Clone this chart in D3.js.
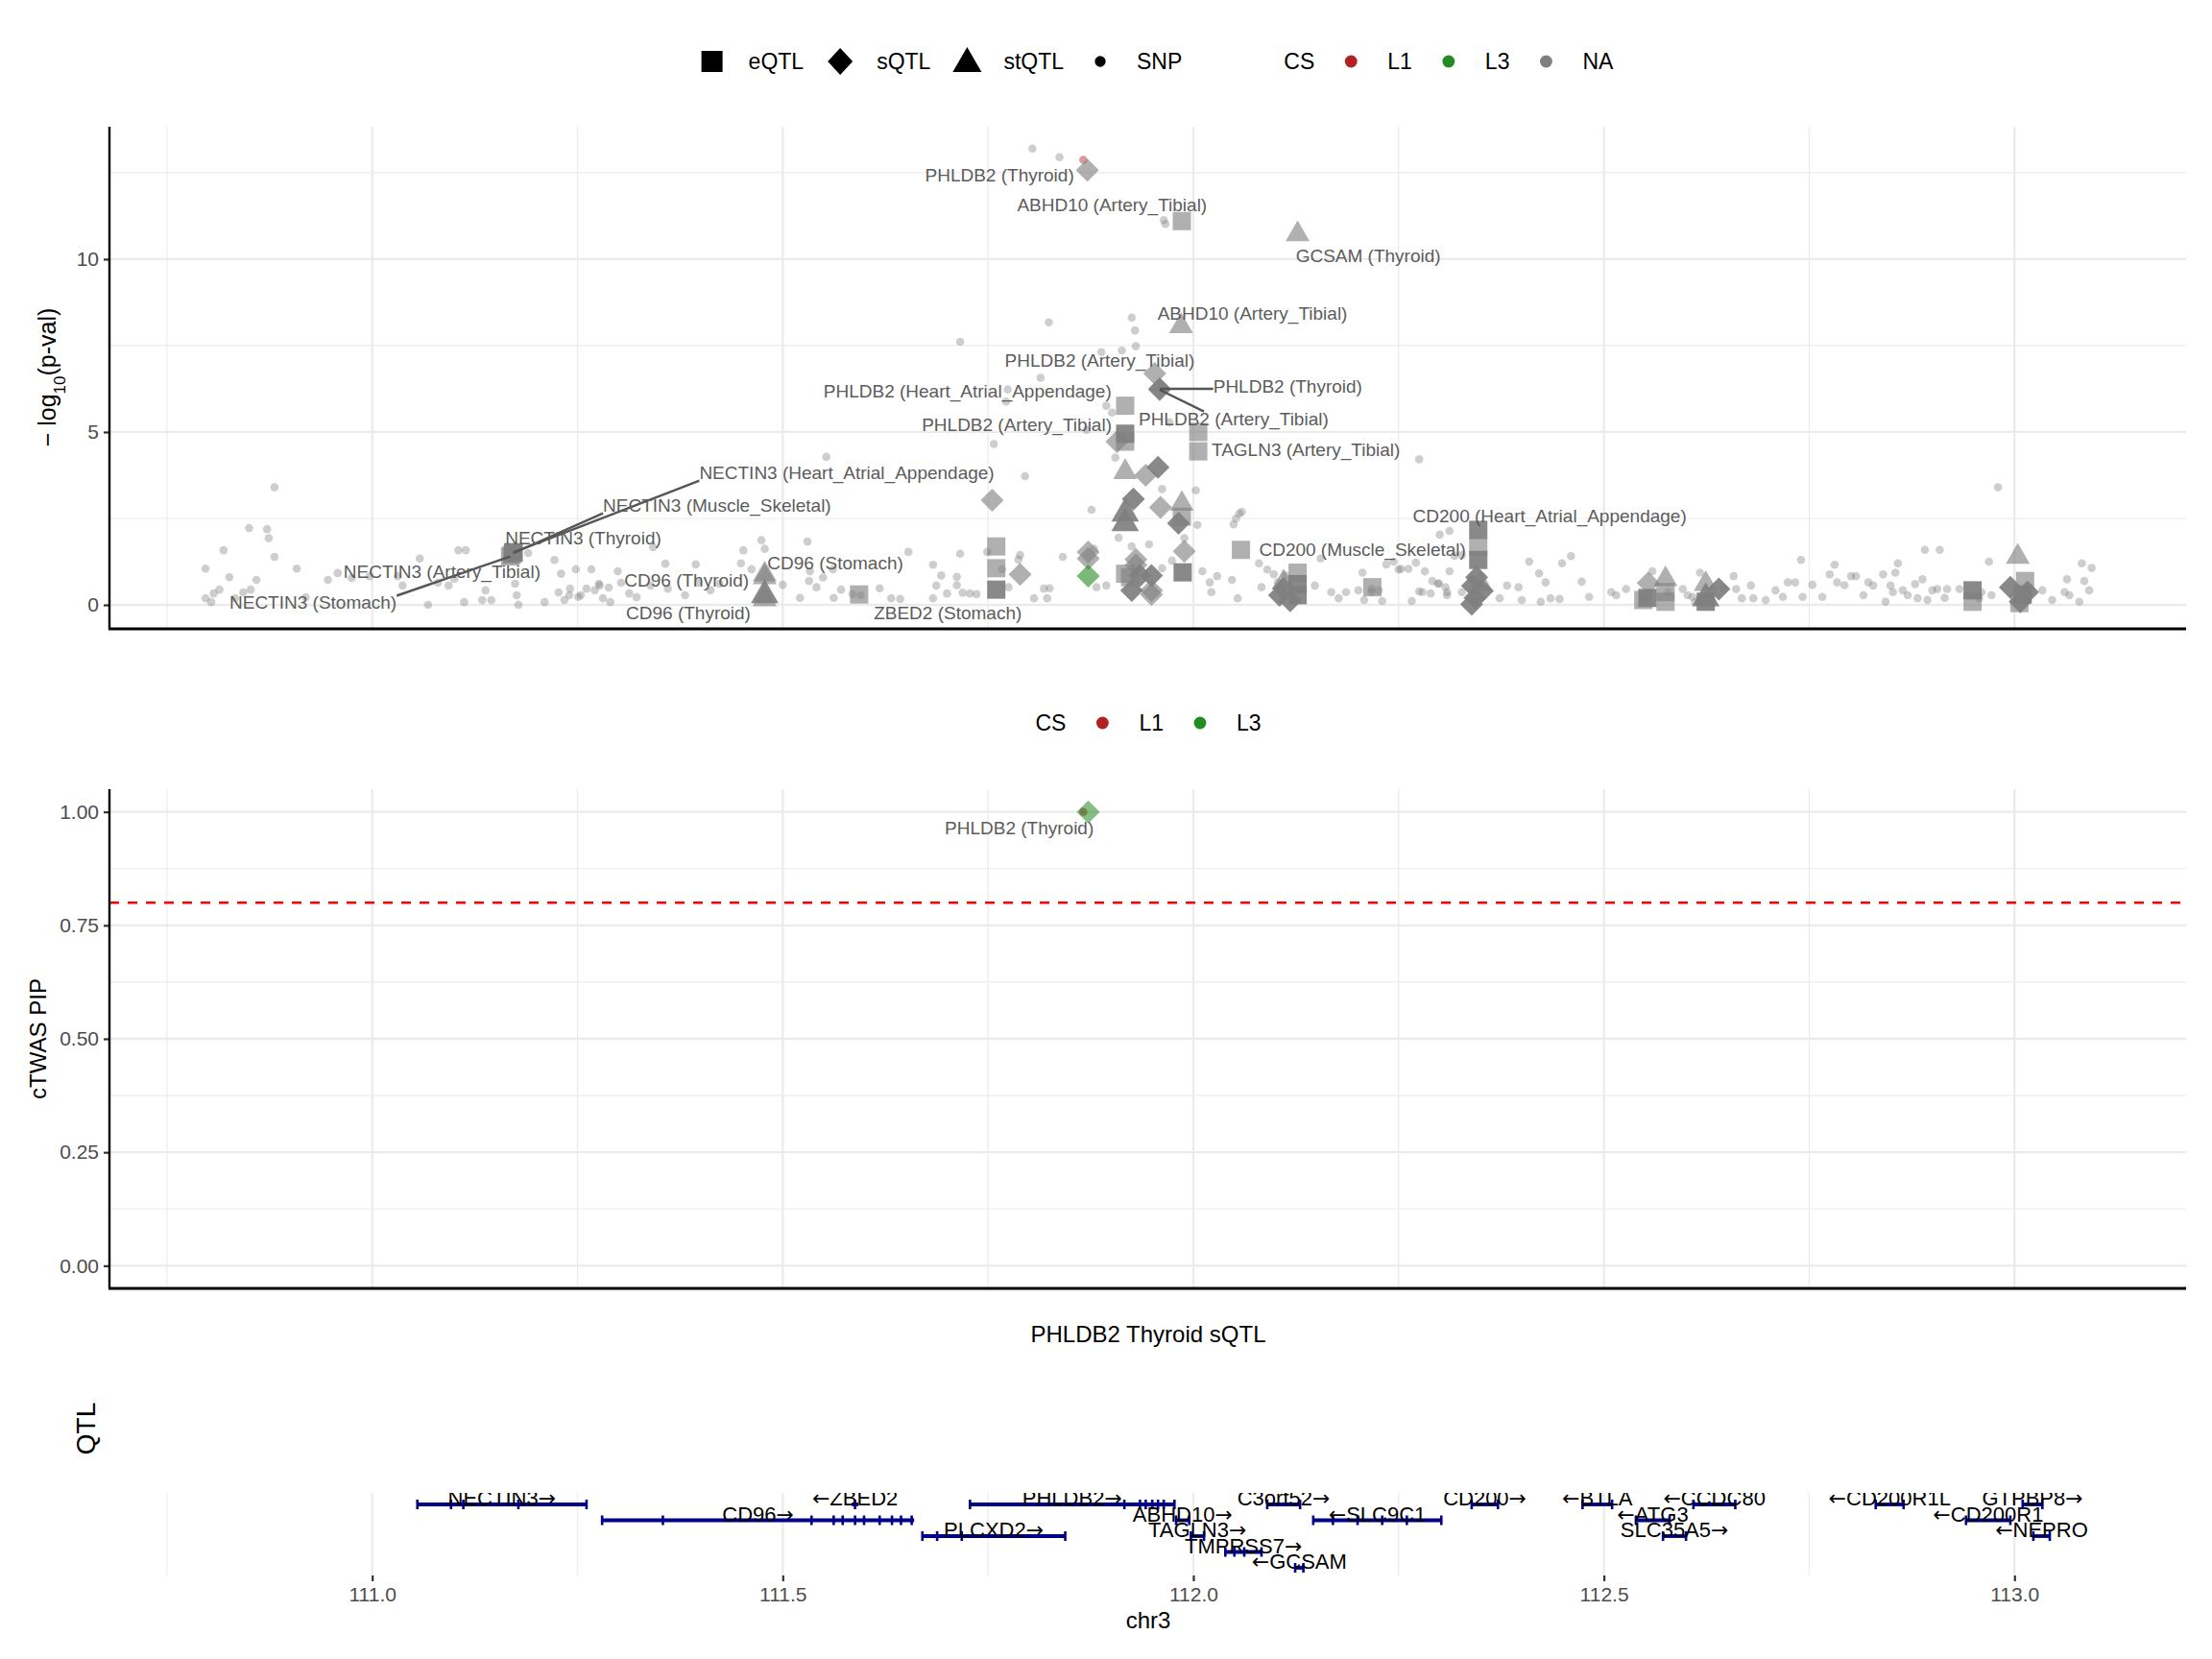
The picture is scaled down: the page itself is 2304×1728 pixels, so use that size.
<!DOCTYPE html>
<html>
<head>
<meta charset="utf-8">
<script src="https://cdn.jsdelivr.net/npm/d3@7"></script>
<style>
  body { margin: 0; background: #fff; }
</style>
</head>
<body>
<div id="chart"></div>
<script>
// ---- data (positions in Mb on chr3, -log10 p) ----

// SNPs, west part of the locus
var snpsWest = [
  [110.850,2.22],[110.872,2.19],[110.874,1.93],[110.819,1.58],[110.881,1.39],[110.797,1.05],
  [110.908,1.05],[110.826,0.80],[110.859,0.72],[110.814,0.44],[110.807,0.33],[110.797,0.19],
  [110.804,0.08],[110.852,0.44],[110.843,0.36],[110.833,0.19],[110.919,0.22],[110.946,0.72],
  [110.958,0.92],[110.975,0.78],[110.997,0.83],[111.031,0.83],[111.037,0.56],[111.058,1.34],
  [111.068,0.00],[111.080,0.64],[111.093,0.56],[111.100,0.75],[111.105,1.58],[111.114,1.58],
  [111.112,0.08],[111.134,0.14],[111.145,0.14],[111.138,0.42],[111.174,0.61],[111.176,0.28],
  [111.178,0.00],[111.190,1.50],[111.210,0.08],[111.222,1.30],[111.230,0.90],[111.241,0.47],
  [111.248,1.03],[111.267,1.03],[111.254,0.28],[111.277,0.56],[111.288,0.50],[111.281,0.19],
  [111.290,0.08],[111.299,0.97],[111.303,0.64],[111.313,0.33],[111.322,0.22],[111.342,1.67],
  [110.881,3.40],[111.276,0.61],[111.271,0.42],[111.261,0.47],[111.251,0.23],[111.240,0.28],
  [111.234,0.14],[111.227,0.36]
];

// SNPs, between NECTIN3 and PHLDB2
var snpsCentre = [
  [111.553,4.28],[111.474,1.87],[111.530,1.83],[111.452,1.58],[111.533,0.97],[111.561,1.03],
  [111.462,1.03],[111.521,0.20],[111.562,0.20],[111.500,0.58],[111.449,1.20],[111.394,1.17],
  [111.423,0.61],[111.360,0.47],[111.357,1.19],[111.339,0.56],[111.381,0.28],[111.412,0.42],
  [111.397,0.64],[111.478,1.62],[111.549,0.79],[111.541,0.51],[111.532,0.69],[111.571,0.44],
  [111.585,0.31],[111.595,0.28],[111.618,0.48],[111.632,0.19],[111.643,0.17],[111.653,1.53],
  [111.683,1.16],[111.693,0.85],[111.712,0.81],[111.687,0.56],[111.712,0.57],[111.700,0.33],
  [111.719,0.35],[111.736,0.31],[111.728,0.33],[111.683,0.19],[111.716,1.48],[111.749,1.53],
  [111.767,1.03],[111.789,1.44],[111.787,1.31],[111.775,0.51],[111.818,0.47],[111.825,0.48],
  [111.822,0.19],[111.841,1.39],[111.806,0.19],[111.882,0.51],[111.894,0.56]
];

// SNPs around the PHLDB2 / ABHD10 peak
var snpsPeak = [
  [111.804,13.20],[111.837,12.95],[111.964,11.13],[111.966,11.02],[111.824,8.17],[111.716,7.61],
  [111.925,8.31],[111.929,7.94],[111.930,7.48],[111.888,7.31],[111.913,7.36],[111.814,6.57],
  [111.774,6.23],[111.772,5.88],[111.894,5.76],[111.901,5.56],[111.971,5.28],[111.870,5.06],
  [111.757,4.65],[111.905,4.26],[111.795,3.72],[111.876,2.75],[111.962,3.35],[112.003,3.31],
  [112.005,2.31],[112.056,2.64],[112.059,2.69],[112.049,2.33],[112.052,2.50],[111.909,1.94],
  [111.925,1.69],[111.946,1.75],[111.989,1.93],[111.879,1.62],[111.962,1.06],[111.974,1.28],
  [112.011,0.97],[112.029,0.83],[112.020,0.65],[112.047,0.72],[112.022,0.37],[112.054,0.19]
];

// SNPs, east part of the locus
var snpsEast = [
  [112.080,1.20],[112.090,1.02],[112.098,0.88],[112.103,0.65],[112.083,0.51],[112.112,0.85],
  [112.148,0.56],[112.155,1.34],[112.168,0.37],[112.177,0.19],[112.186,0.37],[112.206,0.93],
  [112.201,0.42],[112.208,0.14],[112.217,0.37],[112.226,0.42],[112.230,0.11],[112.235,1.17],
  [112.244,1.25],[112.253,1.04],[112.262,1.04],[112.271,1.22],[112.282,0.97],[112.291,0.69],
  [112.298,0.61],[112.266,0.11],[112.275,0.39],[112.289,0.33],[112.309,0.28],[112.307,0.51],
  [112.318,1.42],[112.327,1.44],[112.300,2.03],[112.312,2.14],[112.382,0.56],[112.396,0.51],
  [112.409,1.25],[112.373,0.19],[112.400,0.14],[112.217,0.46],[112.250,1.02],[112.279,0.37],
  [112.299,0.62],[112.309,0.37],[112.312,0.97],[112.327,0.37],[112.421,0.91],[112.429,0.65],
  [112.423,0.09],[112.435,0.19],[112.446,0.17],[112.449,1.20],[112.460,1.41],[112.473,0.67],
  [112.482,0.23],[112.275,4.21],
  [112.509,0.37],[112.515,0.28],[112.527,0.46],[112.559,0.97],[112.549,0.19],[112.578,0.37],
  [112.596,0.46],[112.602,0.28],[112.608,0.23],[112.617,0.93],[112.611,0.09],[112.628,0.28],
  [112.646,0.48],[112.658,0.83],[112.661,0.46],[112.668,0.19],[112.679,0.56],[112.682,0.19],
  [112.697,0.14],[112.709,0.42],[112.718,0.23],[112.724,0.65],[112.733,0.65],[112.742,0.23],
  [112.740,1.30],[112.754,0.58],[112.766,0.23],[112.775,0.88],[112.781,1.16],[112.784,0.65],
  [112.793,0.57],[112.801,0.83],[112.807,0.83],[112.816,0.28],[112.822,0.65],[112.828,0.56],
  [112.840,0.88],[112.843,0.09],[112.849,0.56],[112.852,0.37],[112.858,1.20],[112.855,0.93],
  [112.864,0.42],[112.870,0.28],[112.879,0.60],[112.882,0.19],[112.888,0.74],[112.894,0.14],
  [112.891,1.59],[112.900,0.42],[112.909,1.59],[112.906,0.46],[112.915,0.20],[112.918,0.46],
  [112.933,0.46],[112.957,0.19],[112.969,1.25],[112.960,0.37],[112.972,0.28],[113.034,0.42],
  [113.046,0.14],[113.064,0.74],[113.061,0.37],[113.067,0.28],[113.079,0.09],[113.085,0.69],
  [113.091,0.42],[113.094,1.07],[113.082,1.20],[112.980,3.40]
];

// the one SNP in credible set L1
var snpsL1 = [[111.866,12.87]];

// QTLs: type (e = eQTL, s = sQTL, t = stQTL), position, -log10 p, shade group, credible set
var qtls = [
  ["s",111.871,12.57,1,"NA"],["e",111.986,11.10,1,"NA"],["t",112.127,10.72,1,"NA"],
  ["t",111.985,8.06,1,"NA"],["s",111.953,6.69,1,"NA"],["s",111.959,6.25,2,"NA"],
  ["s",111.959,6.22,1,"NA"],["e",111.917,5.76,1,"NA"],["e",111.917,4.95,2,"NA"],
  ["e",111.917,4.72,1,"NA"],["s",111.907,4.72,1,"NA"],["e",112.006,5.00,1,"NA"],
  ["e",112.006,4.44,1,"NA"],["t",111.917,3.84,1,"NA"],["s",111.942,3.75,1,"NA"],
  ["s",111.957,3.98,2,"NA"],["s",111.927,3.06,2,"NA"],["s",111.755,3.03,1,"NA"],
  ["s",111.960,2.82,1,"NA"],["t",111.986,2.92,1,"NA"],["e",111.986,2.55,1,"NA"],
  ["s",111.982,2.36,2,"NA"],["t",111.917,2.64,2,"NA"],["t",111.917,2.36,2,"NA"],
  ["s",111.872,1.53,1,"NA"],["s",111.872,1.34,1,"NA"],["s",111.872,0.83,1,"L3"],
  ["s",111.930,1.31,1,"NA"],["s",111.930,1.15,1,"NA"],["e",111.917,0.90,1,"NA"],
  ["s",111.935,0.85,2,"NA"],["s",111.949,0.85,2,"NA"],["s",111.925,0.42,2,"NA"],
  ["s",111.949,0.42,1,"NA"],["s",111.949,0.30,1,"NA"],["e",111.987,0.94,2,"NA"],
  ["s",111.989,1.55,1,"NA"],["e",111.760,1.69,1,"NA"],["e",111.760,1.06,1,"NA"],
  ["e",111.760,0.44,2,"NA"],["s",111.789,0.88,1,"NA"],["e",112.058,1.59,1,"NA"],
  ["e",112.347,2.17,2,"NA"],["e",112.347,1.67,1,"NA"],["e",112.347,1.30,2,"NA"],
  ["s",112.345,0.80,2,"NA"],["s",112.340,0.55,2,"NA"],["s",112.352,0.40,2,"NA"],
  ["s",112.343,0.20,2,"NA"],["s",112.339,0.02,2,"NA"],["t",112.350,0.60,1,"NA"],
  ["e",112.127,0.93,1,"NA"],["e",112.127,0.60,2,"NA"],["e",112.127,0.28,2,"NA"],
  ["s",112.105,0.28,2,"NA"],["s",112.110,0.47,2,"NA"],["t",112.110,0.65,1,"NA"],
  ["s",112.118,0.12,2,"NA"],["e",112.218,0.51,1,"NA"],["e",111.172,1.52,2,"NA"],
  ["e",111.170,1.45,1,"NA"],["e",111.172,1.50,1,"NA"],["e",111.172,1.52,1,"NA"],
  ["e",111.168,1.40,1,"NA"],["t",111.478,0.88,1,"NA"],["t",111.478,0.80,1,"NA"],
  ["t",111.478,0.28,2,"NA"],["t",111.478,0.16,1,"NA"],["e",111.593,0.30,1,"NA"],
  ["e",112.548,0.14,1,"NA"],["s",112.554,0.63,1,"NA"],["t",112.575,0.74,1,"NA"],
  ["e",112.575,0.37,1,"NA"],["e",112.575,0.09,1,"NA"],["e",112.553,0.20,2,"NA"],
  ["t",112.624,0.60,1,"NA"],["t",112.624,0.19,2,"NA"],["e",112.624,0.09,2,"NA"],
  ["s",112.640,0.46,2,"NA"],["e",112.949,0.42,2,"NA"],["e",112.949,0.09,1,"NA"],
  ["t",113.004,1.39,1,"NA"],["s",112.995,0.51,2,"NA"],["e",113.013,0.69,1,"NA"],
  ["s",113.016,0.37,2,"NA"],["s",113.007,0.09,2,"NA"],["e",113.006,0.05,1,"NA"],
  ["e",113.010,0.30,2,"NA"],["e",111.923,0.80,1,"NA"]
];

// labels: text, index into qtls, label centre (Mb, -log10 p), draw a leader line
var qtlLabels = [
  ["PHLDB2 (Thyroid)",0,111.764,12.44,0],
  ["ABHD10 (Artery_Tibial)",1,111.901,11.56,0],
  ["GCSAM (Thyroid)",2,112.213,10.11,0],
  ["ABHD10 (Artery_Tibial)",3,112.072,8.44,0],
  ["PHLDB2 (Artery_Tibial)",4,111.886,7.08,0],
  ["PHLDB2 (Heart_Atrial_Appendage)",7,111.725,6.17,0],
  ["PHLDB2 (Thyroid)",5,112.115,6.33,1],
  ["PHLDB2 (Artery_Tibial)",6,112.049,5.39,1],
  ["PHLDB2 (Artery_Tibial)",8,111.785,5.22,0],
  ["TAGLN3 (Artery_Tibial)",12,112.137,4.50,0],
  ["NECTIN3 (Heart_Atrial_Appendage)",62,111.578,3.83,1],
  ["NECTIN3 (Muscle_Skeletal)",61,111.420,2.89,1],
  ["NECTIN3 (Thyroid)",59,111.257,1.94,0],
  ["NECTIN3 (Artery_Tibial)",60,111.085,0.97,0],
  ["NECTIN3 (Stomach)",63,110.928,0.06,1],
  ["CD96 (Thyroid)",65,111.383,0.72,0],
  ["CD96 (Thyroid)",66,111.385,-0.22,0],
  ["CD96 (Stomach)",64,111.564,1.22,0],
  ["ZBED2 (Stomach)",68,111.701,-0.22,0],
  ["CD200 (Muscle_Skeletal)",41,112.206,1.61,0],
  ["CD200 (Heart_Atrial_Appendage)",42,112.434,2.56,0]
];

// cTWAS PIP panel
var pipQtls = [["s",111.872,1.00,"L3"]];
var pipSnps = [[111.866,1.00,"L1"]];
var pipLabels = [["PHLDB2 (Thyroid)",0,111.788,0.964,0]];
var pipThreshold = 0.8;

// gene models: name, start, end, strand, row, exon positions
var genes = [
  ["NECTIN3",111.055,111.261,"+",1,[111.055,111.096,111.111,111.178,111.261]],
  ["CD96",111.280,111.660,"+",2,[111.280,111.354,111.535,111.562,111.573,111.588,111.599,111.618,111.633,111.644,111.657]],
  ["ZBED2",111.584,111.592,"-",1,[111.588]],
  ["PLCXD2",111.670,111.844,"+",3,[111.670,111.688,111.718,111.844]],
  ["PHLDB2",111.728,111.977,"+",1,[111.728,111.916,111.935,111.942,111.950,111.957,111.964,111.977]],
  ["ABHD10",111.979,111.995,"+",2,[111.979,111.995]],
  ["TAGLN3",111.997,112.013,"+",3,[111.997,112.013]],
  ["TMPRSS7",112.039,112.083,"+",4,[112.039,112.050,112.062,112.083]],
  ["GCSAM",112.124,112.134,"-",5,[112.124,112.134]],
  ["C3orf52",112.090,112.130,"+",1,[112.090,112.130]],
  ["SLC9C1",112.146,112.302,"-",2,[112.146,112.170,112.200,112.230,112.260,112.302]],
  ["CD200",112.339,112.371,"+",1,[112.339,112.371]],
  ["BTLA",112.474,112.510,"-",1,[112.474,112.510]],
  ["ATG3",112.539,112.580,"-",2,[112.539,112.580]],
  ["SLC35A5",112.572,112.600,"+",3,[112.572,112.600]],
  ["CCDC80",112.609,112.660,"-",1,[112.609,112.660]],
  ["CD200R1L",112.831,112.865,"-",1,[112.831,112.865]],
  ["CD200R1",112.941,112.995,"-",2,[112.941,112.995]],
  ["GTPBP8",113.010,113.034,"+",1,[113.010,113.034]],
  ["NEPRO",113.023,113.043,"-",3,[113.023,113.043]]
];

var shapeKeys = ["eQTL","sQTL","stQTL","SNP"];
var csKeys = ["L1","L3","NA"];
var pipCsKeys = ["L1","L3"];
var xTicks = [111.0,111.5,112.0,112.5,113.0];
var xMinor = [110.75,111.25,111.75,112.25,112.75];
var yTicksTop = [0,5,10];
var yMinorTop = [2.5,7.5,12.5];
var yTicksPip = [0,0.25,0.5,0.75,1];
var yMinorPip = [0.125,0.375,0.625,0.875];

// ---- drawing ----
var W = 2304, H = 1728;
var L = 114, R = 2277;                 // panel left / right edge
var font = "'Liberation Sans', Arial, Helvetica, sans-serif";
var csColour = { "L1": "#b22222", "L3": "#228b22", "NA": "#7f7f7f" };
var typeOf = { "eQTL": "e", "sQTL": "s", "stQTL": "t", "SNP": "p" };

var svg = d3.select("#chart").append("svg")
  .attr("width", W).attr("height", H)
  .style("font-family", font);

var x = d3.scaleLinear().domain([110.680, 113.209]).range([L, R]);
var yTop = d3.scaleLinear().domain([-0.694, 13.83]).range([655, 132]);
var yPip = d3.scaleLinear().domain([-0.05, 1.05]).range([1342, 822]);
var yRow = d3.scalePoint().domain([1,2,3,4,5]).range([1567, 1633]);
var opac = d3.scaleOrdinal().domain([1,2]).range([0.62, 0.92]);

//shape path for the ggplot-like point shapes
function shapePath(type, big) {
  var k = big ? 1.15 : 1;
  if (type == "e") {
    var s = 19 * k / 2;
    return "M" + (-s) + "," + (-s) + "h" + 2*s + "v" + 2*s + "h" + (-2*s) + "Z";
  }
  if (type == "s") {
    var r = 12 * k;
    return "M0," + (-r) + "L" + r + ",0L0," + r + "L" + (-r) + ",0Z";
  }
  if (type == "t") {
    var a = 25 * k, h = a * 0.866;
    return "M0," + (-2*h/3) + "L" + a/2 + "," + h/3 + "L" + (-a/2) + "," + h/3 + "Z";
  }
  return d3.symbol().type(d3.symbolCircle).size(130)();
}

//grid lines for one panel
function grid(top, bottom, yScale, major, minor) {
  var g = svg.append("g");
  g.selectAll(".vminor").data(xMinor).enter().append("line")
    .attr("x1", d => x(d)).attr("x2", d => x(d))
    .attr("y1", top).attr("y2", bottom)
    .attr("stroke", "#ebebeb").attr("stroke-width", 1.2);
  g.selectAll(".vmajor").data(xTicks).enter().append("line")
    .attr("x1", d => x(d)).attr("x2", d => x(d))
    .attr("y1", top).attr("y2", bottom)
    .attr("stroke", "#ebebeb").attr("stroke-width", 2.3);
  if (yScale) {
    g.selectAll(".hminor").data(minor).enter().append("line")
      .attr("x1", L).attr("x2", R)
      .attr("y1", d => yScale(d)).attr("y2", d => yScale(d))
      .attr("stroke", "#ebebeb").attr("stroke-width", 1.2);
    g.selectAll(".hmajor").data(major).enter().append("line")
      .attr("x1", L).attr("x2", R)
      .attr("y1", d => yScale(d)).attr("y2", d => yScale(d))
      .attr("stroke", "#ebebeb").attr("stroke-width", 2.3);
  }
}

//left and bottom axis lines with y ticks
function axesLY(yScale, ticks, fmt) {
  var ax = svg.append("g").attr("transform", "translate(" + L + ",0)")
    .call(d3.axisLeft(yScale).tickValues(ticks).tickFormat(fmt).tickSize(6).tickPadding(5));
  ax.select(".domain").remove();
  ax.selectAll("line").attr("stroke", "#333").attr("stroke-width", 2.2);
  ax.selectAll("text").attr("fill", "#4d4d4d").style("font-size", "21px").style("font-family", font);
  var r = yScale.range();
  svg.append("line").attr("x1", L).attr("x2", L).attr("y1", r[1]).attr("y2", r[0])
    .attr("stroke", "#000").attr("stroke-width", 2.4);
  svg.append("line").attr("x1", L - 1).attr("x2", R).attr("y1", r[0]).attr("y2", r[0])
    .attr("stroke", "#000").attr("stroke-width", 3);
}

function legendShape(type) {
  if (type == "e") return "M-11,-11h22v22h-22Z";
  if (type == "s") return "M0,-14L13,0L0,14L-13,0Z";
  return "M0,-15L15,11L-15,11Z";
}

//horizontal legend; x = 0 is the left edge of the first key
function legend(cy, title, items) {
  var g = svg.append("g");
  var pos = 0;
  if (title) {
    var t = g.append("text").attr("x", pos).attr("y", cy).attr("dy", "0.35em")
      .style("font-size", "23px").text(title);
    pos += t.node().getComputedTextLength() + 38;
  } else {
    pos = 12;
  }
  items.forEach(function(it, i) {
    g.append("path").attr("transform", "translate(" + pos + "," + cy + ")")
      .attr("d", it.type == "p" ? d3.symbol().type(d3.symbolCircle).size(it.dot)() : legendShape(it.type))
      .attr("fill", it.fill);
    var tx = g.append("text").attr("x", pos + 38).attr("y", cy).attr("dy", "0.35em")
      .style("font-size", "23px").text(it.label);
    pos += 38 + tx.node().getComputedTextLength() + (i < items.length - 1 ? 38 : 0);
  });
  return { g: g, width: pos };
}

// legends on top of the Manhattan panel
var leg1 = legend(64, null, shapeKeys.map(k => ({ type: typeOf[k], label: k, fill: "#000", dot: 100 })));
var leg2 = legend(64, "CS", csKeys.map(k => ({ type: "p", label: k, fill: csColour[k], dot: 130 })));
var legW = leg1.width + 106 + leg2.width;
var legX = 1205 - legW / 2;
leg1.g.attr("transform", "translate(" + legX + ",0)");
leg2.g.attr("transform", "translate(" + (legX + leg1.width + 106) + ",0)");

// ---- panel 1: QTL / SNP -log10 p ----
grid(132, 655, yTop, yTicksTop, yMinorTop);

var snpAll = snpsWest.concat(snpsCentre, snpsPeak, snpsEast);
svg.append("g").selectAll("circle").data(snpAll).enter().append("circle")
  .attr("cx", d => x(d[0])).attr("cy", d => yTop(d[1])).attr("r", 4.3)
  .attr("fill", csColour["NA"]).attr("fill-opacity", 0.38);
svg.append("g").selectAll("circle").data(snpsL1).enter().append("circle")
  .attr("cx", d => x(d[0])).attr("cy", d => yTop(d[1])).attr("r", 4.3)
  .attr("fill", csColour["L1"]).attr("fill-opacity", 0.45);

svg.append("g").selectAll("path").data(qtls).enter().append("path")
  .attr("transform", d => "translate(" + x(d[1]) + "," + yTop(d[2]) + ")")
  .attr("d", d => shapePath(d[0], d[0] == "t" && d[3] == 2))
  .attr("fill", d => csColour[d[4]])
  .attr("fill-opacity", d => d[4] == "NA" ? opac(d[3]) : 0.6);

//text labels with leader lines (like ggrepel)
function drawLabels(labels, points, yScale) {
  var g = svg.append("g");
  var segs = g.append("g");
  labels.forEach(function(l) {
    var t = g.append("text").attr("x", x(l[2])).attr("y", yScale(l[3]))
      .attr("text-anchor", "middle").attr("dy", "0.35em")
      .attr("fill", "#5c5c5c").style("font-size", "19px").text(l[0]);
    if (l[4]) {
      var p = points[l[1]];
      var px = x(p[1]), py = yScale(p[2]);
      var b = t.node().getBBox();
      var cx = b.x + b.width / 2;
      var qx = Math.max(b.x, Math.min(px, b.x + b.width));
      var qy = Math.max(b.y + 3, Math.min(py, b.y + b.height - 3));
      // lean the end towards the label centre when the point sits over the label
      if (px > b.x && px < b.x + b.width) qx = px + (cx - px) * 0.6;
      segs.append("line").attr("x1", px).attr("y1", py).attr("x2", qx).attr("y2", qy)
        .attr("stroke", "#555").attr("stroke-width", 2.4);
    }
  });
}
drawLabels(qtlLabels, qtls, yTop);

axesLY(yTop, yTicksTop, d3.format("d"));

var yt = svg.append("text").attr("transform", "translate(49,393) rotate(-90)")
  .attr("text-anchor", "middle").attr("dy", "0.35em").style("font-size", "25px");
yt.append("tspan").text("\u2212 log");
yt.append("tspan").attr("baseline-shift", "sub").style("font-size", "17px").text("10");
yt.append("tspan").text("(p-val)");

// ---- panel 2: cTWAS PIP ----
var leg3 = legend(753, "CS", pipCsKeys.map(k => ({ type: "p", label: k, fill: csColour[k], dot: 130 })));
leg3.g.attr("transform", "translate(" + (1196 - leg3.width / 2) + ",0)");

grid(822, 1342, yPip, yTicksPip, yMinorPip);

svg.append("line").attr("x1", L).attr("x2", R)
  .attr("y1", yPip(pipThreshold)).attr("y2", yPip(pipThreshold))
  .attr("stroke", "#ff0000").attr("stroke-width", 2.4).attr("stroke-dasharray", "10,9");

svg.append("g").selectAll("circle").data(pipSnps).enter().append("circle")
  .attr("cx", d => x(d[0])).attr("cy", d => yPip(d[1])).attr("r", 4.3)
  .attr("fill", d => csColour[d[2]]).attr("fill-opacity", 0.6);
svg.append("g").selectAll("path").data(pipQtls).enter().append("path")
  .attr("transform", d => "translate(" + x(d[1]) + "," + yPip(d[2]) + ")")
  .attr("d", d => shapePath(d[0], false))
  .attr("fill", d => csColour[d[3]]).attr("fill-opacity", 0.55);
drawLabels(pipLabels, pipQtls, yPip);

axesLY(yPip, yTicksPip, d3.format(".2f"));

svg.append("text").attr("transform", "translate(40,1082) rotate(-90)")
  .attr("text-anchor", "middle").attr("dy", "0.35em").style("font-size", "24px").text("cTWAS PIP");

// ---- panel 3: empty QTL track title ----
svg.append("text").attr("x", 1196).attr("y", 1390).attr("text-anchor", "middle")
  .attr("dy", "0.35em").style("font-size", "24px").text("PHLDB2 Thyroid sQTL");
svg.append("text").attr("transform", "translate(89,1488) rotate(-90)")
  .attr("text-anchor", "middle").attr("dy", "0.35em").style("font-size", "28px").text("QTL");

// ---- panel 4: gene track ----
svg.append("clipPath").attr("id", "geneclip").append("rect")
  .attr("x", L).attr("y", 1555).attr("width", R - L).attr("height", 88);
grid(1555, 1641, null);

var gt = svg.append("g").attr("clip-path", "url(#geneclip)");
var gg = gt.selectAll("g.gene").data(genes).enter().append("g");
gg.append("line")
  .attr("x1", d => x(d[1])).attr("x2", d => Math.max(x(d[2]), x(d[1]) + 4))
  .attr("y1", d => yRow(d[4])).attr("y2", d => yRow(d[4]))
  .attr("stroke", "#00008b").attr("stroke-width", 3.8);
gg.selectAll("line.exon").data(d => d[5].map(e => [e, d[4]])).enter().append("line")
  .attr("x1", d => x(d[0])).attr("x2", d => x(d[0]))
  .attr("y1", d => yRow(d[1]) - 5).attr("y2", d => yRow(d[1]) + 5)
  .attr("stroke", "#00008b").attr("stroke-width", 2.6);
var gl = gg.append("text")
  .attr("x", d => x((d[1] + d[2]) / 2)).attr("y", d => yRow(d[4]) + 1)
  .attr("text-anchor", "middle").style("font-size", "22px").attr("fill", "#000");
gl.each(function(d) {
  var t = d3.select(this);
  if (d[3] == "-") t.append("tspan").style("font-family", "'DejaVu Sans', sans-serif").text("\u2190");
  t.append("tspan").text(d[0]);
  if (d[3] == "+") t.append("tspan").style("font-family", "'DejaVu Sans', sans-serif").text("\u2192");
});

var xa = svg.append("g").attr("transform", "translate(0,1641)")
  .call(d3.axisBottom(x).tickValues(xTicks).tickFormat(d3.format(".1f")).tickSize(6).tickPadding(6));
xa.select(".domain").remove();
xa.selectAll("line").attr("stroke", "#333").attr("stroke-width", 2.2);
xa.selectAll("text").attr("fill", "#4d4d4d").style("font-size", "21px").style("font-family", font);

svg.append("text").attr("x", 1196).attr("y", 1688).attr("text-anchor", "middle")
  .attr("dy", "0.35em").style("font-size", "24px").text("chr3");
</script>
</body>
</html>
